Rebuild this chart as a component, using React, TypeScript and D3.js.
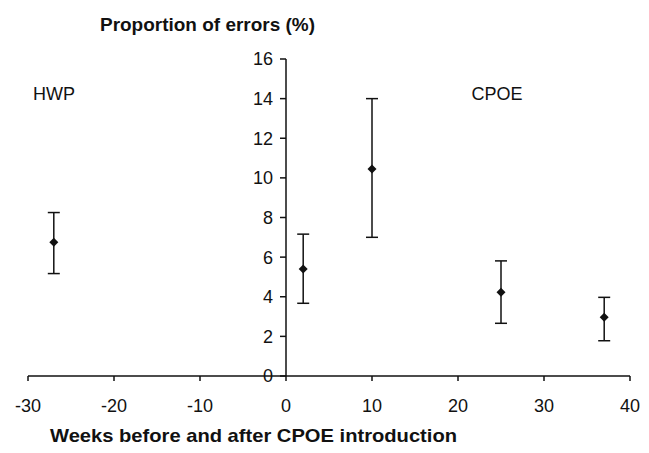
import React from "react";
import * as d3 from "d3";

const weeks = [-27, 2, 10, 25, 37];
const means = [6.75, 5.4, 10.45, 4.23, 2.96];
const lowers = [5.17, 3.67, 7.0, 2.66, 1.78];
const uppers = [8.25, 7.16, 14.0, 5.81, 3.97];
const xTicks = [-30, -20, -10, 0, 10, 20, 30, 40];
const yTicks = [0, 2, 4, 6, 8, 10, 12, 14, 16];
const yTitle = "Proportion of errors (%)";
const xTitle = "Weeks before and after CPOE introduction";
const periodLabels = [
  { text: "HWP", x: -30 },
  { text: "CPOE", x: 21 },
];

export default function App() {
  const W = 649, H = 453;
  const x = d3.scaleLinear().domain([-30, 40]).range([28, 630]);
  const y = d3.scaleLinear().domain([0, 16]).range([376, 59]);
  const font = "'Liberation Sans', Arial, sans-serif";
  const stroke = "#111";
  const capW = 6;
  const dia = 4.5;
  return (
    <svg width={W} height={H} style={{ position: "absolute", left: 0, top: 0, background: "#fff" }} fontFamily={font}>
      <rect width={W} height={H} fill="#fff" />
      {/* x axis */}
      <line x1={x(-30)} x2={x(40)} y1={y(0)} y2={y(0)} stroke={stroke} strokeWidth={1.5} />
      {xTicks.map((t) => (
        <g key={"xt" + t}>
          <line x1={x(t)} x2={x(t)} y1={y(0)} y2={y(0) + 5} stroke={stroke} strokeWidth={1.5} />
          <text x={x(t)} y={y(0) + 36} textAnchor="middle" fontSize={18} fill="#111">{t}</text>
        </g>
      ))}
      {/* y axis */}
      <line x1={x(0)} x2={x(0)} y1={y(0)} y2={y(16)} stroke={stroke} strokeWidth={1.5} />
      {yTicks.map((t) => (
        <g key={"yt" + t}>
          <line x1={x(0) - 6} x2={x(0)} y1={y(t)} y2={y(t)} stroke={stroke} strokeWidth={1.5} />
          <text x={x(0) - 13} y={y(t)} dy="0.36em" textAnchor="end" fontSize={18} fill="#111">{t}</text>
        </g>
      ))}
      {/* titles */}
      <text x={100} y={31} fontSize={19} fontWeight="bold" fill="#111" textLength={215} lengthAdjust="spacingAndGlyphs">{yTitle}</text>
      <text x={50} y={442} fontSize={19} fontWeight="bold" fill="#111" textLength={407} lengthAdjust="spacingAndGlyphs">{xTitle}</text>
      {periodLabels.map((p) => (
        <text key={p.text} x={x(p.x) + 5} y={100} fontSize={18} fill="#111">{p.text}</text>
      ))}
      {/* error bars */}
      {weeks.map((w, i) => {
        const cx = x(w);
        return (
          <g key={"pt" + i}>
            <line x1={cx} x2={cx} y1={y(lowers[i])} y2={y(uppers[i])} stroke={stroke} strokeWidth={1.5} />
            <line x1={cx - capW} x2={cx + capW} y1={y(uppers[i])} y2={y(uppers[i])} stroke={stroke} strokeWidth={1.5} />
            <line x1={cx - capW} x2={cx + capW} y1={y(lowers[i])} y2={y(lowers[i])} stroke={stroke} strokeWidth={1.5} />
            <path
              d={`M${cx},${y(means[i]) - dia}L${cx + dia},${y(means[i])}L${cx},${y(means[i]) + dia}L${cx - dia},${y(means[i])}Z`}
              fill="#111"
            />
          </g>
        );
      })}
    </svg>
  );
}
